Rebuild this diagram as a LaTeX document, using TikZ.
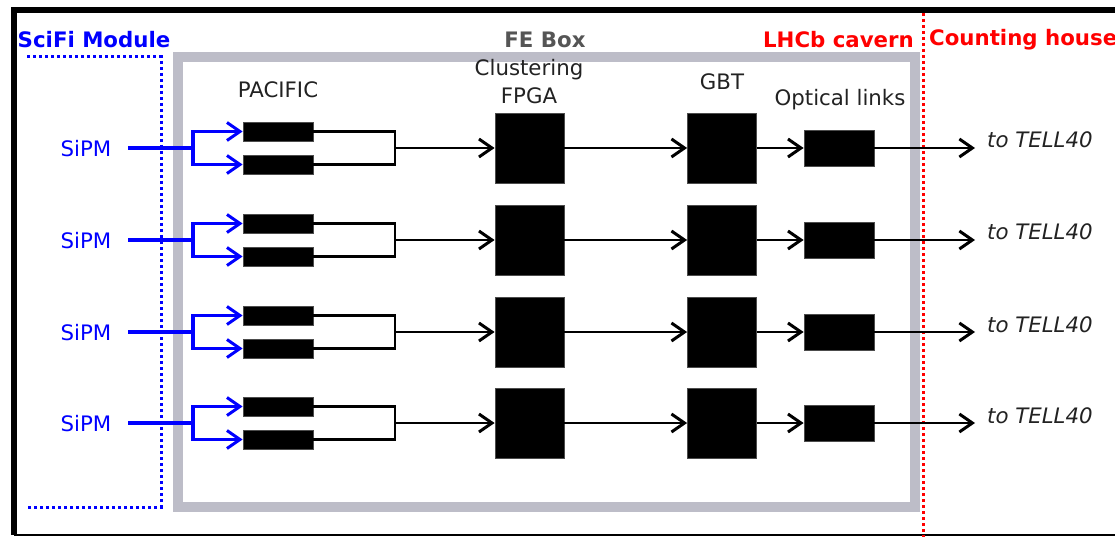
\documentclass[tikz,border=0pt]{standalone}
\usepackage{fontspec}
\setmainfont{DejaVu Sans}
\usetikzlibrary{arrows.meta}
\definecolor{feGray}{HTML}{BDBDC8}
\definecolor{labGray}{HTML}{555555}
\definecolor{txtDark}{HTML}{222222}
\tikzset{
  lbl/.style={font=\fontsize{21.3}{24}\selectfont, text=txtDark, inner sep=0pt},
  bold lbl/.style={font=\fontsize{21.3}{24}\selectfont\bfseries, inner sep=0pt},
  pacbox/.style={fill=black, draw=black!70, line width=0.8pt, minimum width=70pt, minimum height=19pt, inner sep=0pt},
  bigbox/.style={fill=black, draw=black!70, line width=0.8pt, minimum width=69pt, minimum height=70pt, inner sep=0pt},
  optbox/.style={fill=black, draw=black!70, line width=0.8pt, minimum width=70pt, minimum height=36pt, inner sep=0pt},
  chev/.style={-{Straight Barb[length=13pt,width=18pt,line width=3pt]}},
  sig/.style={line width=2.9pt, black},
  bsig/.style={line width=3.2pt, blue},
}
\begin{document}
\begin{tikzpicture}[x=1pt,y=-1pt]
\useasboundingbox (0,0) rectangle (1115,537);
% outer frame
\draw[line width=1.5pt] (14,535) -- (1115,535);
\draw[line width=5.5pt] (14,535) -- (14,10) -- (1115,10);
% FE box
\draw[feGray, line width=10pt] (178,57) rectangle (915,507);
% SciFi module dotted
\draw[blue, line width=3pt, dash pattern=on 3pt off 3pt] (27,57) -- (161,57) -- (161,507) -- (27,507);
% red separator
\draw[red, line width=3pt, dash pattern=on 3pt off 3pt] (923,13) -- (923,537);
% headings
\node[bold lbl, text=blue] (scifi) at (94,40) {SciFi Module};
\node[bold lbl, text=labGray] (febox) at (545,40) {FE Box};
\node[bold lbl, text=red, anchor=east] (cavern) at (914,40) {LHCb cavern};
\node[bold lbl, text=red, anchor=west] (counting) at (929,40) {Counting house};
% column labels
\node[lbl] (pacL) at (278,90) {PACIFIC};
\node[lbl] (clL) at (529,70) {Clustering};
\node[lbl] (fpL) at (529,96) {FPGA};
\node[lbl] (gbtL) at (722,82) {GBT};
\node[lbl] (optL) at (840,100) {Optical links};
% rows
\foreach \i/\y in {1/148,2/240,3/332,4/423}{
  \node[lbl, text=blue] (sipm\i) at (86,\y+1) {SiPM};
  \coordinate (s\i) at (128,\y);
  \coordinate (br\i) at (193,\y);
  \node[pacbox] (pa\i) at (278,\y-16.5) {};
  \node[pacbox] (pb\i) at (278,\y+16.5) {};
  \coordinate (j\i) at (395,\y);
  \node[bigbox] (fpga\i) at (529.5,\y) {};
  \node[bigbox] (gbt\i) at (722,\y) {};
  \node[optbox] (opt\i) at (839,\y) {};
  \coordinate (end\i) at (975,\y);
  \node[lbl, font=\fontsize{21.3}{24}\selectfont\itshape, anchor=base west] (tell\i) at (987,\y) {to TELL40};
  \draw[bsig] (s\i) -- (br\i);
  \draw[bsig, chev] (br\i) |- (pa\i.west);
  \draw[bsig, chev] (br\i) |- (pb\i.west);
  \draw[sig] (pa\i.east) -| (j\i) |- (pb\i.east);
  \draw[sig, chev] (j\i) -- (fpga\i.west);
  \draw[sig, chev] (fpga\i.east) -- (gbt\i.west);
  \draw[sig, chev] (gbt\i.east) -- (opt\i.west);
  \draw[sig, chev] (opt\i.east) -- (end\i);
}
\end{tikzpicture}
\end{document}
